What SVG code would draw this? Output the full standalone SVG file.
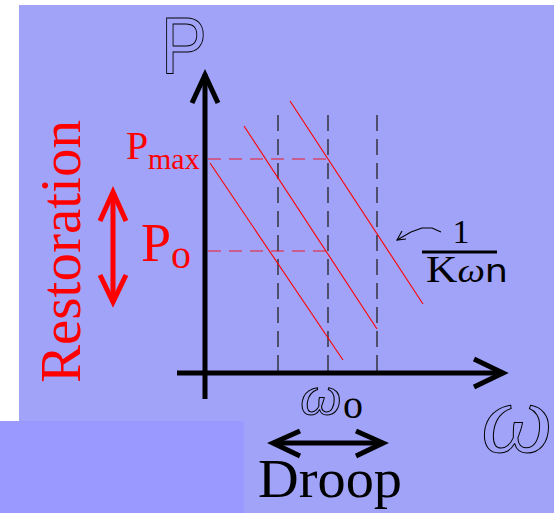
<svg xmlns="http://www.w3.org/2000/svg" width="554" height="513" viewBox="0 0 554 513">
<style>
.axis{stroke:#000;stroke-width:5;fill:none;stroke-linejoin:miter}
.vdash{stroke:#222;stroke-width:1.3;stroke-dasharray:16 8;fill:none}
.hdash{stroke:#f00;stroke-width:1;stroke-dasharray:13 8;fill:none;opacity:0.85}
.slope{stroke:#f00;stroke-width:1.1;fill:none}
.serif{font-family:"Liberation Serif","Times New Roman",serif}
.hollow{fill:none;stroke:#000;stroke-width:1}
</style>
<rect x="0" y="0" width="554" height="513" fill="#fff"/>
<rect x="19" y="5" width="535" height="508" fill="#a0a3f8"/>
<rect x="0" y="421" width="244" height="92" fill="#9999ff"/>

<g id="connectors">
  <g id="grid">
    <line class="vdash" x1="278" y1="115" x2="278" y2="371"/>
    <line class="vdash" x1="328" y1="115" x2="328" y2="371"/>
    <line class="vdash" x1="377" y1="115" x2="377" y2="371"/>
    <line class="hdash" x1="208" y1="159" x2="328" y2="159"/>
    <line class="hdash" x1="208" y1="251" x2="328" y2="251"/>
  </g>
  <g id="droop-lines">
    <line class="slope" x1="210" y1="163" x2="343" y2="360"/>
    <line class="slope" x1="244" y1="126" x2="377" y2="329"/>
    <line class="slope" x1="290" y1="101" x2="423" y2="304"/>
  </g>
  <g id="p-axis">
    <line class="axis" x1="205" y1="74" x2="205" y2="399"/>
    <polyline class="axis" points="192,103 205,75 218,103"/>
  </g>
  <g id="w-axis">
    <line class="axis" x1="177" y1="373" x2="503" y2="373"/>
    <polyline class="axis" points="474,359 503,373 474,387"/>
  </g>
  <g id="restoration-arrow">
    <line stroke="#f00" stroke-width="5" x1="113" y1="192" x2="113" y2="302"/>
    <polyline points="100,221 113,192 126,221" stroke="#f00" stroke-width="5" fill="none"/>
    <polyline points="100,275 113,302 126,275" stroke="#f00" stroke-width="5" fill="none"/>
  </g>
  <g id="droop-arrow">
    <line class="axis" x1="273" y1="443" x2="383" y2="443"/>
    <polyline class="axis" points="300,431 273,443 300,456"/>
    <polyline class="axis" points="356,431 383,443 356,456"/>
  </g>
  <g id="slope-pointer">
    <path d="M441,232 L432,228 L422,228 L411,232 L397,240" fill="none" stroke="#000" stroke-width="1.1"/>
    <polyline points="402,231 397,240 406,239" fill="none" stroke="#000" stroke-width="1.1"/>
  </g>
</g>

<g id="label-P">
  <text transform="translate(161,73) scale(0.86,1)" x="0" y="0" font-family="Liberation Sans, Arial, sans-serif" font-size="80" class="hollow">P</text>
</g>
<g id="label-omega">
  <text x="481" y="452" font-family="Liberation Serif, serif" font-style="italic" font-size="100" textLength="72" lengthAdjust="spacingAndGlyphs" class="hollow">ω</text>
</g>
<g id="label-omega0">
  <text x="300" y="414" font-family="Liberation Serif, serif" font-style="italic" font-size="56" textLength="42" lengthAdjust="spacingAndGlyphs" class="hollow">ω</text>
  <text x="343" y="418" class="serif" font-size="40">o</text>
</g>
<g id="label-Pmax">
  <text x="126" y="159" class="serif" font-size="40" fill="#f00">P</text>
  <text x="148" y="169" class="serif" font-size="30" fill="#f00">max</text>
</g>
<g id="label-Po">
  <text x="141" y="261" class="serif" font-size="54" fill="#f00">P</text>
  <text x="171" y="268" class="serif" font-size="40" fill="#f00">o</text>
</g>
<g id="label-restoration">
  <text transform="translate(80,383) rotate(-90)" class="serif" font-size="57" fill="#f00" textLength="263" lengthAdjust="spacingAndGlyphs">Restoration</text>
</g>
<g id="label-slope">
  <text x="461" y="243" class="serif" font-size="34" text-anchor="middle">1</text>
  <line x1="422" y1="252" x2="497" y2="252" stroke="#000" stroke-width="3"/>
  <text x="426" y="282" font-size="38" textLength="82" lengthAdjust="spacingAndGlyphs"><tspan class="serif">K</tspan><tspan font-family="Liberation Serif, serif" font-style="italic" font-size="34">ω</tspan><tspan font-family="DejaVu Sans, sans-serif" font-size="32">n</tspan></text>
</g>
<g id="label-droop">
  <text x="258" y="497" class="serif" font-size="55" textLength="144" lengthAdjust="spacingAndGlyphs">Droop</text>
</g>
</svg>
